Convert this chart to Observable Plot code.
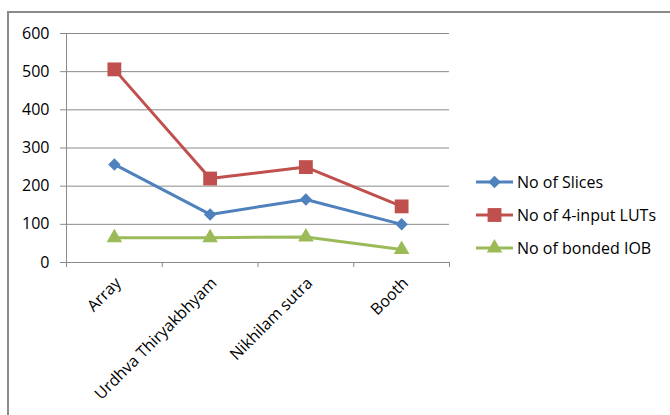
<!DOCTYPE html>
<html><head><meta charset="utf-8">
<script src="https://cdn.jsdelivr.net/npm/d3@7"></script>
<script src="https://cdn.jsdelivr.net/npm/@observablehq/plot@0.6"></script>
<style>
body{margin:0;background:#fff;font-family:"Open Sans",sans-serif;}
#wrap{position:relative;width:670px;height:415px;overflow:hidden;}
#frame{position:absolute;left:7px;top:11px;width:720px;height:520px;border:2px solid #8a8a8a;box-sizing:border-box;}
#chart{position:absolute;left:0;top:0;}
#legend{position:absolute;left:476px;top:0;}
.row{position:absolute;left:0;height:20px;display:flex;align-items:center;white-space:nowrap;font-size:16px;color:#000;}
.row svg{display:block;margin-right:3px;}
</style></head><body>
<div id="wrap"><div id="frame"></div><div id="chart"></div><div id="legend"></div></div>
<script>
const categories = ["Array", "Urdhva Thiryakbhyam", "Nikhilam sutra", "Booth"];
const seriesNames = ["No of Slices", "No of 4-input LUTs", "No of bonded IOB"];
const slices = [257, 126, 165, 100];
const luts = [506, 220, 250, 147];
const iob = [65, 65, 67, 34];
const yTicks = [0, 100, 200, 300, 400, 500, 600];
const colors = ["#4F81BD", "#C0504D", "#9BBB59"];
const symbols = ["diamond2", "square", "triangle"];
const radii = [5.6, 7.8, 5.8];

const values = [slices, luts, iob];
const data = seriesNames.flatMap((s, k) => categories.map((c, i) => ({series: s, k, i, cat: c, value: values[k][i]})));
const boundaries = d3.range(categories.length + 1).map(d => d - 0.5);

const chart = Plot.plot({
  width: 670, height: 415,
  marginLeft: 66, marginRight: 221, marginTop: 33, marginBottom: 153,
  style: {fontFamily: "'Open Sans', sans-serif", fontSize: "16px", color: "#000", background: "transparent"},
  x: {domain: [-0.5, categories.length - 0.5], axis: null},
  y: {domain: [0, 600], axis: null},
  color: {domain: seriesNames, range: colors},
  marks: [
    Plot.gridY(yTicks, {stroke: "#8a8a8a", strokeOpacity: 1}),
    Plot.axisY(yTicks, {tickSize: 6, tickPadding: 11, stroke: "#8a8a8a", fill: "#000", fontSize: 16, label: null}),
    Plot.ruleX([-0.5], {stroke: "#8a8a8a"}),
    Plot.ruleY([0], {stroke: "#8a8a8a"}),
    Plot.axisX(boundaries, {tickSize: 5, tickFormat: () => "", stroke: "#8a8a8a", label: null}),
    Plot.axisX(d3.range(categories.length), {tickSize: 0, tickPadding: 18, dx: 4, tickFormat: i => categories[i], tickRotate: -45, fill: "#000", fontSize: 16, label: null}),
    Plot.line(data, {x: "i", y: "value", z: "series", stroke: "series", strokeWidth: 3}),
    ...seriesNames.map((s, k) => Plot.dot(data.filter(d => d.k === k), {x: "i", y: "value", fill: colors[k], symbol: symbols[k], r: radii[k]}))
  ]
});
document.getElementById("chart").appendChild(chart);

const symMap = {diamond2: d3.symbolDiamond2, square: d3.symbolSquare, triangle: d3.symbolTriangle};
const legend = document.getElementById("legend");
const rowCenters = [182, 215, 248];
seriesNames.forEach((s, k) => {
  const row = document.createElement("div");
  row.className = "row";
  row.style.top = (rowCenters[k] - 10) + "px";
  const size = Math.PI * radii[k] * radii[k];
  const path = d3.symbol(symMap[symbols[k]], size)();
  row.innerHTML = `<svg width="38" height="20"><line x1="0" x2="37" y1="10" y2="10" stroke="${colors[k]}" stroke-width="3"/><path transform="translate(18.5,10)" d="${path}" fill="${colors[k]}"/></svg><span>${s}</span>`;
  legend.appendChild(row);
});
</script>
</body></html>
